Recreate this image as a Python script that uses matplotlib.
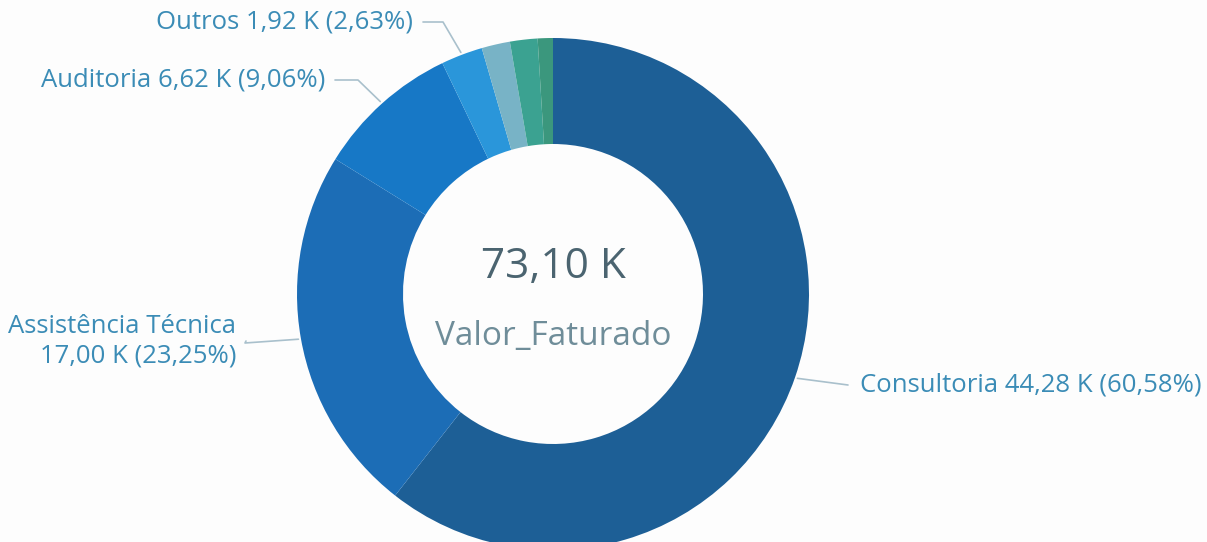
import numpy as np
import matplotlib.pyplot as plt

# data (values in K)
categorias = ["Consultoria", "Assistência Técnica", "Auditoria", "Outros", "", "", ""]
valores = [44.28, 17.00, 6.62, 1.92, 1.31, 1.27, 0.70]
percentuais = [60.58, 23.25, 9.06, 2.63, 1.79, 1.74, 0.95]
total = 73.10
cores = ["#1d5f96", "#1c6db6", "#1778c6", "#2a96da", "#78b3c6", "#3ba291", "#3b977d"]

W, H = 1207, 542
fig = plt.figure(figsize=(W / 100, H / 100), dpi=100)
ax = fig.add_axes([0, 0, 1, 1])
fig.patch.set_facecolor("#fdfdfd")

plt.rcParams["font.family"] = ["Open Sans", "DejaVu Sans"]

cx, cy, r, r_in = 553, 248, 256, 150
wedges, _ = ax.pie(valores, colors=cores, startangle=90, counterclock=False,
                   center=(cx, cy), radius=r, frame=True,
                   wedgeprops=dict(width=r - r_in, linewidth=0))
ax.set_xlim(0, W)
ax.set_ylim(0, H)
ax.set_axis_off()


def fmt(v):
    return f"{v:.2f}".replace(".", ",")


label_col = "#3b8cb6"
line_col = "#a9c0cc"

# (elbow point, text anchor, ha) per labelled slice
layout = {
    0: ((848, 159), (860, 157), "left"),
    1: ((245, 199), (236, 201), "right"),
    2: ((358, 462), (325, 462), "right"),
    3: ((443, 520), (413, 520), "right"),
}

for i, (elbow, pos, ha) in layout.items():
    w = wedges[i]
    ang = np.deg2rad((w.theta1 + w.theta2) / 2)
    p0 = (cx + r * 1.01 * np.cos(ang), cy + r * 1.01 * np.sin(ang))
    end_x = pos[0] + (-12 if ha == "left" else 10)
    xs = [p0[0], elbow[0], end_x] if ha == "right" else [p0[0], end_x]
    ys = [p0[1], elbow[1], pos[1]] if ha == "right" else [p0[1], pos[1]]
    ax.plot(xs, ys, color=line_col, lw=1.2, solid_capstyle="round")
    sep = "\n" if i == 1 else " "
    txt = f"{categorias[i]}{sep}{fmt(valores[i])} K ({fmt(percentuais[i])}%)"
    ax.text(pos[0], pos[1], txt, ha=ha, va="center", fontsize=18.5,
            color=label_col, linespacing=1.25, multialignment="right")

ax.text(cx, 275, f"{fmt(total)} K", ha="center", va="center",
        fontsize=30.5, color="#4b6470")
ax.text(cx, 206, "Valor_Faturado", ha="center", va="center",
        fontsize=24, color="#6f8d99")

fig.savefig("out.png", dpi=100, facecolor=fig.get_facecolor())
